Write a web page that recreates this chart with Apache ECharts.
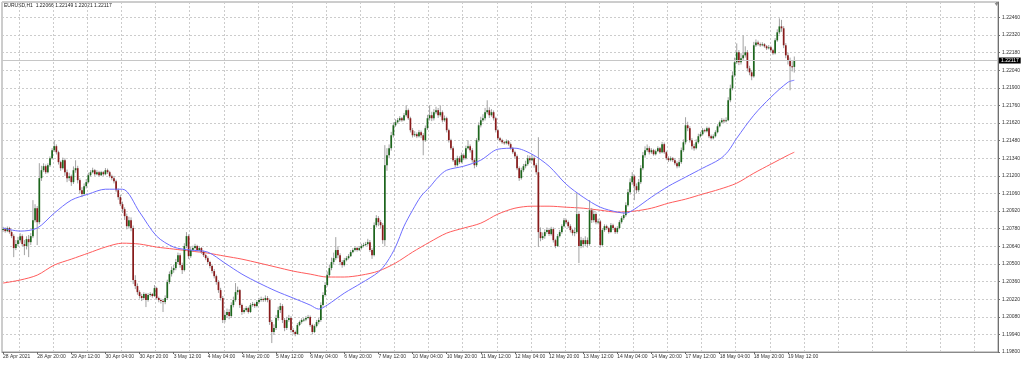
<!DOCTYPE html>
<html>
<head>
<meta charset="utf-8">
<script src="https://cdn.jsdelivr.net/npm/echarts@6/dist/echarts.min.js"></script>
<style>html,body{margin:0;padding:0;background:#fff}#chart{width:1024px;height:366px}</style>
</head>
<body>
<div id="chart"></div>
<script>
// ---- data: EURUSD H1, 28 Apr 2021 04:00 .. 19 May 2021 15:00 ----
const symbolName = 'EURUSD,H1';
const tradingDays = ['28 Apr','29 Apr','30 Apr','3 May','4 May','5 May','6 May','7 May','10 May','11 May','12 May','13 May','14 May','17 May','18 May','19 May'];
const firstHour = 4;
const timeLabels = ['28 Apr 2021','28 Apr 20:00','29 Apr 12:00','30 Apr 04:00','30 Apr 20:00','3 May 12:00','4 May 04:00','4 May 20:00','5 May 12:00','6 May 04:00','6 May 20:00','7 May 12:00','10 May 04:00','10 May 20:00','11 May 12:00','12 May 04:00','12 May 20:00','13 May 12:00','14 May 04:00','14 May 20:00','17 May 12:00','18 May 04:00','18 May 20:00','19 May 12:00'];
const labelEvery = 16; // hours between time labels

const opens = [
1.20770,1.20777,1.20761,1.20785,1.20753,1.20721,1.20626,1.20658,1.20689,1.20721,
1.20658,1.20642,1.20697,1.20673,1.20721,1.20848,1.20943,1.20832,1.21182,1.21245,
1.21277,1.21229,1.21285,1.21340,1.21404,1.21436,1.21388,1.21309,1.21261,1.21325,
1.21229,1.21182,1.21197,1.21150,1.21245,1.21261,1.21166,1.21086,1.21055,1.21118,
1.21150,1.21205,1.21229,1.21245,1.21213,1.21229,1.21205,1.21229,1.21213,1.21245,
1.21229,1.21197,1.21182,1.21158,1.21086,1.21031,1.20975,1.20935,1.20880,1.20800,
1.20848,1.20785,1.20372,1.20324,1.20276,1.20245,1.20229,1.20261,1.20213,1.20253,
1.20261,1.20245,1.20308,1.20229,1.20213,1.20205,1.20197,1.20229,1.20356,1.20419,
1.20451,1.20467,1.20515,1.20570,1.20491,1.20451,1.20642,1.20721,1.20562,1.20610,
1.20626,1.20642,1.20610,1.20626,1.20594,1.20570,1.20546,1.20515,1.20483,1.20443,
1.20403,1.20356,1.20292,1.20229,1.20054,1.20094,1.20118,1.20086,1.20173,1.20213,
1.20276,1.20292,1.20173,1.20118,1.20133,1.20149,1.20118,1.20173,1.20181,1.20165,
1.20197,1.20213,1.20221,1.20213,1.20229,1.20213,1.20038,1.19959,1.19991,1.20070,
1.20133,1.20165,1.20054,1.19991,1.20054,1.20070,1.19975,1.19959,1.19943,1.20014,
1.20038,1.20054,1.20058,1.20070,1.20078,1.20014,1.19959,1.20006,1.20038,1.20054,
1.20173,1.20253,1.20332,1.20411,1.20467,1.20515,1.20546,1.20610,1.20570,1.20515,
1.20491,1.20530,1.20546,1.20562,1.20594,1.20610,1.20626,1.20610,1.20626,1.20642,
1.20650,1.20658,1.20673,1.20610,1.20570,1.20808,1.20864,1.20832,1.20808,1.20689,
1.21285,1.21364,1.21420,1.21523,1.21602,1.21626,1.21642,1.21658,1.21642,1.21682,
1.21722,1.21658,1.21563,1.21523,1.21531,1.21515,1.21547,1.21523,1.21483,1.21579,
1.21658,1.21682,1.21658,1.21706,1.21722,1.21682,1.21706,1.21642,1.21658,1.21563,
1.21483,1.21420,1.21325,1.21285,1.21340,1.21309,1.21364,1.21340,1.21420,1.21436,
1.21404,1.21325,1.21285,1.21483,1.21602,1.21642,1.21658,1.21706,1.21722,1.21682,
1.21706,1.21658,1.21563,1.21499,1.21483,1.21467,1.21460,1.21475,1.21452,1.21420,
1.21388,1.21356,1.21261,1.21182,1.21245,1.21277,1.21293,1.21340,1.21325,1.21340,
1.21285,1.21229,1.20753,1.20705,1.20721,1.20753,1.20769,1.20737,1.20777,1.20689,
1.20642,1.20721,1.20753,1.20800,1.20848,1.20832,1.20800,1.20769,1.20745,1.20753,
1.20896,1.20642,1.20689,1.20658,1.20689,1.20658,1.20927,1.20848,1.20896,1.20832,
1.20838,1.20650,1.20769,1.20800,1.20785,1.20753,1.20808,1.20785,1.20753,1.20785,
1.20832,1.20864,1.20888,1.20967,1.21070,1.21150,1.21197,1.21118,1.21086,1.21150,
1.21261,1.21364,1.21404,1.21420,1.21388,1.21404,1.21372,1.21396,1.21420,1.21388,
1.21452,1.21388,1.21340,1.21325,1.21340,1.21325,1.21301,1.21277,1.21309,1.21404,
1.21467,1.21602,1.21579,1.21483,1.21436,1.21420,1.21467,1.21515,1.21531,1.21563,
1.21555,1.21579,1.21515,1.21499,1.21515,1.21547,1.21594,1.21626,1.21642,1.21634,
1.21642,1.21801,1.21896,1.21999,1.22103,1.22182,1.22103,1.22134,1.22158,1.22182,
1.22055,1.22023,1.21991,1.22238,1.22261,1.22246,1.22238,1.22246,1.22230,1.22214,
1.22222,1.22198,1.22174,1.22277,1.22341,1.22388,1.22373,1.22238,1.22158,1.22119,
1.22071,1.22066];

const highs = [
1.20795,1.20790,1.20798,1.20795,1.20768,1.20735,1.20690,1.20715,1.20745,1.20735,
1.20690,1.20720,1.20730,1.20745,1.21007,1.20975,1.20960,1.21301,1.21280,1.21300,
1.21290,1.21300,1.21355,1.21420,1.21483,1.21450,1.21400,1.21320,1.21345,1.21340,
1.21250,1.21225,1.21210,1.21275,1.21324,1.21280,1.21180,1.21110,1.21140,1.21175,
1.21225,1.21245,1.21265,1.21255,1.21245,1.21240,1.21240,1.21238,1.21262,1.21258,
1.21240,1.21210,1.21200,1.21170,1.21100,1.21050,1.20995,1.20950,1.20900,1.20875,
1.20870,1.20805,1.20410,1.20345,1.20290,1.20262,1.20275,1.20270,1.20268,1.20275,
1.20270,1.20332,1.20318,1.20240,1.20225,1.20220,1.20250,1.20375,1.20440,1.20480,
1.20495,1.20540,1.20590,1.20585,1.20510,1.20665,1.20753,1.20735,1.20635,1.20645,
1.20660,1.20652,1.20640,1.20635,1.20605,1.20580,1.20560,1.20525,1.20495,1.20460,
1.20415,1.20370,1.20310,1.20245,1.20120,1.20145,1.20140,1.20195,1.20240,1.20348,
1.20320,1.20300,1.20185,1.20150,1.20165,1.20160,1.20190,1.20198,1.20192,1.20212,
1.20230,1.20240,1.20232,1.20250,1.20245,1.20225,1.20055,1.20020,1.20095,1.20160,
1.20190,1.20180,1.20070,1.20080,1.20095,1.20085,1.19990,1.19970,1.20030,1.20050,
1.20068,1.20070,1.20085,1.20095,1.20090,1.20025,1.20020,1.20055,1.20070,1.20195,
1.20275,1.20355,1.20440,1.20495,1.20550,1.20590,1.20713,1.20640,1.20585,1.20530,
1.20548,1.20562,1.20578,1.20610,1.20625,1.20640,1.20638,1.20642,1.20660,1.20668,
1.20675,1.20700,1.20690,1.20625,1.20830,1.20888,1.20880,1.20850,1.20825,1.21444,
1.21420,1.21450,1.21550,1.21625,1.21650,1.21660,1.21675,1.21668,1.21700,1.21761,
1.21735,1.21670,1.21580,1.21555,1.21545,1.21565,1.21560,1.21540,1.21600,1.21685,
1.21761,1.21710,1.21730,1.21750,1.21740,1.21761,1.21720,1.21680,1.21670,1.21575,
1.21495,1.21435,1.21340,1.21360,1.21355,1.21385,1.21378,1.21440,1.21483,1.21450,
1.21420,1.21340,1.21500,1.21625,1.21670,1.21690,1.21740,1.21801,1.21745,1.21730,
1.21720,1.21670,1.21575,1.21510,1.21495,1.21478,1.21490,1.21485,1.21465,1.21430,
1.21400,1.21370,1.21275,1.21265,1.21295,1.21320,1.21365,1.21360,1.21365,1.21355,
1.21300,1.21507,1.20790,1.20750,1.20775,1.20790,1.20785,1.20795,1.20790,1.20700,
1.20738,1.20770,1.20815,1.20865,1.20860,1.20845,1.20815,1.20780,1.20790,1.21062,
1.20910,1.20715,1.20705,1.20720,1.20710,1.21007,1.20945,1.20925,1.20910,1.20860,
1.20850,1.20785,1.20815,1.20812,1.20795,1.20825,1.20820,1.20795,1.20800,1.20848,
1.20880,1.20905,1.20990,1.21095,1.21180,1.21230,1.21210,1.21140,1.21175,1.21285,
1.21390,1.21435,1.21450,1.21435,1.21420,1.21415,1.21410,1.21435,1.21430,1.21470,
1.21465,1.21400,1.21355,1.21355,1.21350,1.21340,1.21315,1.21330,1.21425,1.21490,
1.21666,1.21630,1.21595,1.21500,1.21455,1.21490,1.21535,1.21550,1.21580,1.21575,
1.21592,1.21590,1.21528,1.21530,1.21562,1.21610,1.21640,1.21660,1.21655,1.21665,
1.21825,1.21925,1.22030,1.22140,1.22253,1.22200,1.22175,1.22317,1.22230,1.22200,
1.22075,1.22040,1.22265,1.22285,1.22275,1.22260,1.22262,1.22255,1.22240,1.22240,
1.22235,1.22210,1.22295,1.22365,1.22452,1.22440,1.22390,1.22255,1.22180,1.22140,
1.22110,1.22149];

const lows = [
1.20755,1.20748,1.20752,1.20740,1.20705,1.20554,1.20610,1.20640,1.20670,1.20640,
1.20570,1.20615,1.20554,1.20650,1.20705,1.20830,1.20650,1.20815,1.21160,1.21230,
1.21215,1.21220,1.21270,1.21330,1.21390,1.21370,1.21290,1.21240,1.21250,1.21200,
1.21150,1.21160,1.21120,1.21135,1.21225,1.21140,1.21060,1.21031,1.21045,1.21100,
1.21140,1.21195,1.21220,1.21200,1.21205,1.21195,1.21198,1.21200,1.21205,1.21215,
1.21185,1.21165,1.21140,1.21070,1.21010,1.20960,1.20905,1.20850,1.20775,1.20780,
1.20760,1.20340,1.20300,1.20255,1.20225,1.20205,1.20215,1.20157,1.20200,1.20240,
1.20232,1.20238,1.20215,1.20195,1.20185,1.20118,1.20180,1.20215,1.20340,1.20400,
1.20430,1.20450,1.20500,1.20470,1.20420,1.20440,1.20625,1.20540,1.20548,1.20598,
1.20615,1.20600,1.20598,1.20580,1.20555,1.20530,1.20500,1.20465,1.20425,1.20385,
1.20335,1.20270,1.20210,1.20030,1.20035,1.20070,1.20060,1.20070,1.20155,1.20200,
1.20255,1.20150,1.20095,1.20105,1.20120,1.20105,1.20110,1.20160,1.20150,1.20155,
1.20185,1.20200,1.20198,1.20200,1.20195,1.20015,1.19871,1.19935,1.19975,1.20050,
1.20110,1.20030,1.19965,1.19975,1.20040,1.19955,1.19940,1.19925,1.19935,1.20005,
1.20025,1.20040,1.20045,1.20060,1.20000,1.19940,1.19950,1.19995,1.20020,1.20040,
1.20160,1.20240,1.20320,1.20395,1.20450,1.20495,1.20530,1.20545,1.20490,1.20470,
1.20480,1.20520,1.20535,1.20555,1.20585,1.20600,1.20598,1.20602,1.20615,1.20632,
1.20640,1.20645,1.20595,1.20540,1.20560,1.20790,1.20800,1.20780,1.20660,1.20640,
1.21240,1.21340,1.21400,1.21505,1.21590,1.21615,1.21630,1.21630,1.21635,1.21670,
1.21645,1.21545,1.21505,1.21510,1.21500,1.21505,1.21500,1.21364,1.21470,1.21565,
1.21640,1.21635,1.21640,1.21690,1.21660,1.21670,1.21625,1.21630,1.21545,1.21465,
1.21405,1.21310,1.21270,1.21275,1.21295,1.21300,1.21325,1.21330,1.21410,1.21385,
1.21305,1.21260,1.21270,1.21470,1.21585,1.21630,1.21640,1.21690,1.21660,1.21670,
1.21640,1.21545,1.21485,1.21470,1.21455,1.21448,1.21450,1.21440,1.21408,1.21375,
1.21340,1.21245,1.21160,1.21170,1.21230,1.21260,1.21280,1.21305,1.21315,1.21265,
1.21210,1.20634,1.20680,1.20690,1.20700,1.20740,1.20722,1.20725,1.20670,1.20625,
1.20635,1.20710,1.20740,1.20790,1.20815,1.20785,1.20750,1.20725,1.20720,1.20740,
1.20507,1.20625,1.20630,1.20640,1.20630,1.20645,1.20825,1.20830,1.20815,1.20815,
1.20630,1.20640,1.20755,1.20770,1.20740,1.20745,1.20770,1.20738,1.20740,1.20775,
1.20820,1.20850,1.20875,1.20955,1.21050,1.21130,1.21007,1.21060,1.21070,1.21135,
1.21245,1.21345,1.21390,1.21370,1.21375,1.21360,1.21362,1.21388,1.21375,1.21380,
1.21375,1.21325,1.21310,1.21315,1.21310,1.21285,1.21260,1.21265,1.21295,1.21390,
1.21450,1.21555,1.21465,1.21410,1.21400,1.21410,1.21455,1.21505,1.21520,1.21545,
1.21545,1.21500,1.21488,1.21490,1.21505,1.21538,1.21585,1.21618,1.21620,1.21625,
1.21635,1.21785,1.21880,1.21985,1.22090,1.22080,1.22085,1.22120,1.22140,1.22030,
1.22000,1.21960,1.21980,1.22225,1.22235,1.22225,1.22230,1.22218,1.22200,1.22205,
1.22185,1.22160,1.22165,1.22265,1.22325,1.22345,1.22215,1.22135,1.22085,1.21880,
1.22030,1.22021];

const closes = [
1.20777,1.20761,1.20785,1.20753,1.20721,1.20626,1.20658,1.20689,1.20721,1.20658,
1.20642,1.20697,1.20673,1.20721,1.20848,1.20943,1.20832,1.21182,1.21245,1.21277,
1.21229,1.21285,1.21340,1.21404,1.21436,1.21388,1.21309,1.21261,1.21325,1.21229,
1.21182,1.21197,1.21150,1.21245,1.21261,1.21166,1.21086,1.21055,1.21118,1.21150,
1.21205,1.21229,1.21245,1.21213,1.21229,1.21205,1.21229,1.21213,1.21245,1.21229,
1.21197,1.21182,1.21158,1.21086,1.21031,1.20975,1.20935,1.20880,1.20800,1.20848,
1.20785,1.20372,1.20324,1.20276,1.20245,1.20229,1.20261,1.20213,1.20253,1.20261,
1.20245,1.20308,1.20229,1.20213,1.20205,1.20197,1.20229,1.20356,1.20419,1.20451,
1.20467,1.20515,1.20570,1.20491,1.20451,1.20642,1.20721,1.20562,1.20610,1.20626,
1.20642,1.20610,1.20626,1.20594,1.20570,1.20546,1.20515,1.20483,1.20443,1.20403,
1.20356,1.20292,1.20229,1.20054,1.20094,1.20118,1.20086,1.20173,1.20213,1.20276,
1.20292,1.20173,1.20118,1.20133,1.20149,1.20118,1.20173,1.20181,1.20165,1.20197,
1.20213,1.20221,1.20213,1.20229,1.20213,1.20038,1.19959,1.19991,1.20070,1.20133,
1.20165,1.20054,1.19991,1.20054,1.20070,1.19975,1.19959,1.19943,1.20014,1.20038,
1.20054,1.20058,1.20070,1.20078,1.20014,1.19959,1.20006,1.20038,1.20054,1.20173,
1.20253,1.20332,1.20411,1.20467,1.20515,1.20546,1.20610,1.20570,1.20515,1.20491,
1.20530,1.20546,1.20562,1.20594,1.20610,1.20626,1.20610,1.20626,1.20642,1.20650,
1.20658,1.20673,1.20610,1.20570,1.20808,1.20864,1.20832,1.20808,1.20689,1.21285,
1.21364,1.21420,1.21523,1.21602,1.21626,1.21642,1.21658,1.21642,1.21682,1.21722,
1.21658,1.21563,1.21523,1.21531,1.21515,1.21547,1.21523,1.21483,1.21579,1.21658,
1.21682,1.21658,1.21706,1.21722,1.21682,1.21706,1.21642,1.21658,1.21563,1.21483,
1.21420,1.21325,1.21285,1.21340,1.21309,1.21364,1.21340,1.21420,1.21436,1.21404,
1.21325,1.21285,1.21483,1.21602,1.21642,1.21658,1.21706,1.21722,1.21682,1.21706,
1.21658,1.21563,1.21499,1.21483,1.21467,1.21460,1.21475,1.21452,1.21420,1.21388,
1.21356,1.21261,1.21182,1.21245,1.21277,1.21293,1.21340,1.21325,1.21340,1.21285,
1.21229,1.20753,1.20705,1.20721,1.20753,1.20769,1.20737,1.20777,1.20689,1.20642,
1.20721,1.20753,1.20800,1.20848,1.20832,1.20800,1.20769,1.20745,1.20753,1.20896,
1.20642,1.20689,1.20658,1.20689,1.20658,1.20927,1.20848,1.20896,1.20832,1.20838,
1.20650,1.20769,1.20800,1.20785,1.20753,1.20808,1.20785,1.20753,1.20785,1.20832,
1.20864,1.20888,1.20967,1.21070,1.21150,1.21197,1.21118,1.21086,1.21150,1.21261,
1.21364,1.21404,1.21420,1.21388,1.21404,1.21372,1.21396,1.21420,1.21388,1.21452,
1.21388,1.21340,1.21325,1.21340,1.21325,1.21301,1.21277,1.21309,1.21404,1.21467,
1.21602,1.21579,1.21483,1.21436,1.21420,1.21467,1.21515,1.21531,1.21563,1.21555,
1.21579,1.21515,1.21499,1.21515,1.21547,1.21594,1.21626,1.21642,1.21634,1.21642,
1.21801,1.21896,1.21999,1.22103,1.22182,1.22103,1.22134,1.22158,1.22182,1.22055,
1.22023,1.21991,1.22238,1.22261,1.22246,1.22238,1.22246,1.22230,1.22214,1.22222,
1.22198,1.22174,1.22277,1.22341,1.22388,1.22373,1.22238,1.22158,1.22119,1.22071,
1.22066,1.22117];

// moving averages (bar index -> value)
const maFastAt = [0,8,16,24,32,40,48,56,64,72,80,88,96,104,112,120,128,136,144,148,152,160,168,176,180,184,188,192,196,200,204,208,216,224,232,240,248,256,264,272,280,288,292,296,304,312,320,328,336,340,344,352,360,368,371];
const maFast = [1.20785,1.20761,1.20785,1.20904,1.21007,1.21055,1.21094,1.21094,1.20912,1.20721,1.20634,1.20610,1.20594,1.20507,1.20419,1.20348,1.20284,1.20229,1.20173,1.20141,1.20173,1.20268,1.20348,1.20435,1.20515,1.20634,1.20800,1.20927,1.21039,1.21110,1.21190,1.21245,1.21277,1.21325,1.21412,1.21420,1.21372,1.21277,1.21134,1.21031,1.20951,1.20912,1.20904,1.20935,1.21031,1.21118,1.21190,1.21261,1.21332,1.21396,1.21499,1.21682,1.21825,1.21944,1.21960];
const maSlowAt = [0,8,16,24,32,40,48,56,64,72,80,88,96,104,112,120,128,136,144,152,160,168,176,184,192,200,208,216,224,232,240,248,256,264,272,280,288,296,304,312,320,328,336,344,352,360,368,371];
const maSlow = [1.20348,1.20372,1.20411,1.20491,1.20538,1.20586,1.20634,1.20665,1.20658,1.20634,1.20618,1.20602,1.20586,1.20562,1.20538,1.20507,1.20475,1.20443,1.20419,1.20396,1.20396,1.20411,1.20443,1.20507,1.20594,1.20673,1.20745,1.20785,1.20824,1.20896,1.20943,1.20959,1.20959,1.20951,1.20943,1.20927,1.20912,1.20920,1.20943,1.20983,1.21015,1.21055,1.21094,1.21142,1.21221,1.21293,1.21364,1.21388];

const priceMin = 1.19800, priceMax = 1.22582, priceStep = 0.0014;
const totalSlots = 467; // bars + empty right shift area

// ---- build ----
const cats = [];
for (let d = 0; d < tradingDays.length && cats.length < closes.length; d++) {
  for (let h = (d === 0 ? firstHour : 0); h < 24 && cats.length < closes.length; h++) {
    cats.push(tradingDays[d] + ' ' + String(h).padStart(2, '0') + ':00');
  }
}
for (let k = cats.length; k < totalSlots; k++) cats.push('future ' + k);

const candleData = closes.map((c, i) => [i, opens[i], c, lows[i], highs[i]]);
const fastData = maFastAt.map((x, k) => [x, maFast[k]]);
const slowData = maSlowAt.map((x, k) => [x, maSlow[k]]);
const last = closes.length - 1;
const lastClose = closes[last];
const fmt = v => v.toFixed(5);

const isLabelIdx = i => i % labelEvery === 0 && (i / labelEvery) < timeLabels.length;

function renderCandle(params, api) {
  const i = api.value(0);
  const o = api.value(1), c = api.value(2), lo = api.value(3), hi = api.value(4);
  const pO = api.coord([i, o]), pC = api.coord([i, c]);
  const pL = api.coord([i, lo]), pH = api.coord([i, hi]);
  const slot = api.size([1, 0])[0];
  const bw = slot * 0.8;
  const x = pO[0];
  const top = Math.min(pO[1], pC[1]);
  const hgt = Math.max(Math.abs(pO[1] - pC[1]), 1);
  const up = c >= o;
  return {
    type: 'group',
    children: [
      { type: 'line', shape: { x1: x, y1: pH[1], x2: x, y2: pL[1] }, style: { stroke: '#a2a2a2', lineWidth: 1 } },
      { type: 'rect', shape: { x: x - bw / 2, y: top, width: bw, height: hgt }, style: { fill: up ? '#1c661c' : '#881a1a' } }
    ]
  };
}

const FONT = 'Liberation Sans, Arial, sans-serif';
const chart = echarts.init(document.getElementById('chart'), null, { renderer: 'canvas' });
chart.setOption({
  animation: false,
  backgroundColor: '#ffffff',
  grid: { left: 2, right: 26, top: 2, bottom: 14, show: true, borderColor: '#9a9a9a', borderWidth: 1 },
  xAxis: {
    type: 'category',
    data: cats,
    boundaryGap: true,
    axisLine: { show: true, lineStyle: { color: '#8a8a8a', width: 1 } },
    axisTick: { show: true, alignWithLabel: true, interval: (i) => isLabelIdx(i), length: 2, lineStyle: { color: '#666' } },
    axisLabel: {
      show: true, interval: (i) => isLabelIdx(i), align: 'left', margin: 2,
      fontSize: 5, fontFamily: FONT, color: '#333',
      formatter: (v, i) => isLabelIdx(i) ? timeLabels[i / labelEvery] : ''
    },
    splitLine: { show: true, interval: (i) => i % labelEvery === labelEvery / 2, lineStyle: { color: '#cccccc', type: [2, 2], width: 1 } }
  },
  yAxis: {
    type: 'value', position: 'right',
    min: priceMin, max: priceMax, interval: priceStep,
    axisLine: { show: true, lineStyle: { color: '#707070', width: 1 } },
    axisTick: { show: true, length: 2, lineStyle: { color: '#707070' } },
    axisLabel: { fontSize: 5, fontFamily: FONT, color: '#333', margin: 4, formatter: fmt, showMaxLabel: false, showMinLabel: true },
    splitLine: { show: true, lineStyle: { color: '#cccccc', type: [2, 2], width: 1 } }
  },
  series: [
    {
      type: 'line', name: 'MA slow', data: slowData, showSymbol: false, smooth: 0.3,
      lineStyle: { color: '#ff5c5c', width: 1 }, z: 3, silent: true
    },
    {
      type: 'custom', name: symbolName, data: candleData, renderItem: renderCandle,
      encode: { x: 0, y: [1, 2, 3, 4] }, clip: true, z: 4, silent: true
    },
    {
      type: 'line', name: 'MA fast', data: fastData, showSymbol: false, smooth: 0.3,
      lineStyle: { color: '#6e6eff', width: 1 }, z: 5, silent: true,
      markLine: {
        silent: true, symbol: 'none', animation: false, precision: 5,
        data: [{ yAxis: lastClose }],
        lineStyle: { color: '#c6c6c6', type: 'solid', width: 1 },
        label: {
          show: true, position: 'end', distance: 1, formatter: () => fmt(lastClose),
          color: '#ffffff', backgroundColor: '#000000', padding: [1, 2, 0, 2],
          fontSize: 5, fontFamily: FONT
        }
      }
    }
  ],
  graphic: [
    {
      type: 'text', left: 4, top: 3, silent: true,
      style: {
        text: symbolName + '  ' + fmt(opens[last]) + ' ' + fmt(highs[last]) + ' ' + fmt(lows[last]) + ' ' + fmt(closes[last]),
        fontSize: 5, fontFamily: FONT, fill: '#222'
      }
    },
    {
      type: 'polygon', silent: true,
      shape: { points: [[994, 2], [999, 2], [996.5, 6]] },
      style: { fill: '#8a8a8a' }
    }
  ]
});
</script>
</body>
</html>
